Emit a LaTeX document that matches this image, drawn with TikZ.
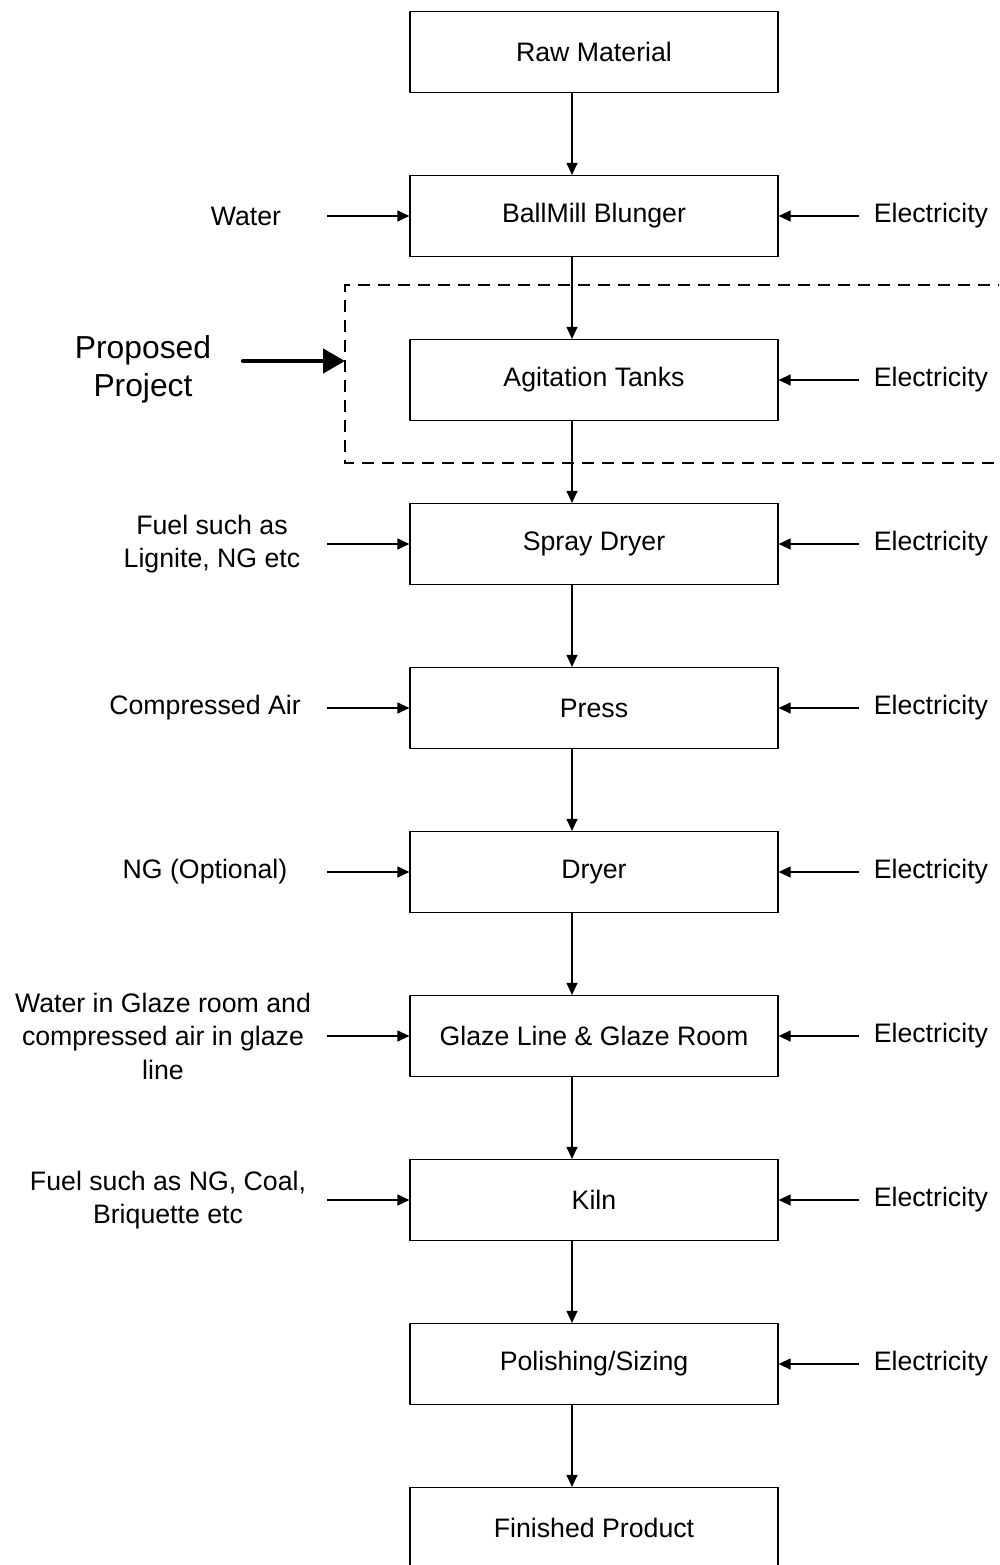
\documentclass[tikz,border=0pt]{standalone}
\usepackage{fontspec}
\setmainfont{Liberation Sans}
\usetikzlibrary{arrows.meta}
\begin{document}
\begin{tikzpicture}[x=1pt,y=-1pt,
  proc/.style={draw,line width=1.2pt,minimum width=368pt,minimum height=81pt,inner sep=0pt,
    font=\fontsize{26.7}{30.7}\selectfont},
  lbl/.style={align=center,inner sep=0pt,font=\fontsize{26.7}{33.5}\selectfont},
  flow/.style={line width=1.2pt,-{Triangle[length=12pt,width=11pt]}},
  big/.style={line width=4.5pt,line cap=round,-{Triangle[length=22pt,width=24pt]}}
]
\useasboundingbox (0,0) rectangle (999,1565);
\begin{scope}
\clip (0,0) rectangle (999,1565);
% process boxes
\node[proc] (raw) at (594,52) {Raw Material};
\node[proc] (ball) at (594,216) {BallMill Blunger};
\node[proc] (agit) at (594,380) {Agitation Tanks};
\node[proc] (spray) at (594,544) {Spray Dryer};
\node[proc] (press) at (594,708) {Press};
\node[proc] (dryer) at (594,872) {Dryer};
\node[proc] (glaze) at (594,1036) {Glaze Line \& Glaze Room};
\node[proc] (kiln) at (594,1200) {Kiln};
\node[proc] (pol) at (594,1364) {Polishing/Sizing};
\node[proc] (fin) at (594,1528) {Finished Product};
% dashed project boundary
\draw[line width=1.2pt,dash pattern=on 12pt off 8pt] (1010,285) -- (345,285) -- (345,463) -- (1010,463);
\coordinate (pb) at (345,361);
% vertical flow
\foreach \a/\b in {raw/ball,ball/agit,agit/spray,spray/press,press/dryer,dryer/glaze,glaze/kiln,kiln/pol,pol/fin}{
  \draw[flow] ([xshift=-22pt]\a.south) -- ([xshift=-22pt]\b.north);
}
% left inputs
\node[lbl] (w1) at (246,216) {Water};
\node[lbl] (f1) at (212,544) {Fuel such as\\Lignite, NG etc};
\node[lbl] (ca) at (205,708) {Compressed Air};
\node[lbl] (ng) at (205,872) {NG (Optional)};
\node[lbl] (wg) at (163,1036) {Water in Glaze room and\\compressed air in glaze\\line};
\node[lbl] (fk) at (168,1200) {Fuel such as NG, Coal,\\Briquette etc};
\foreach \n in {ball,spray,press,dryer,glaze,kiln}{
  \coordinate (L\n) at ([xshift=-82pt]\n.west);
  \draw[flow] (L\n) -- (\n.west);
}
% right inputs
\foreach \n in {ball,agit,spray,press,dryer,glaze,kiln,pol}{
  \node[lbl,anchor=west] (E\n) at ([xshift=95pt]\n.east) {Electricity};
  \coordinate (R\n) at ([xshift=80pt]\n.east);
  \draw[flow] (R\n) -- (\n.east);
}
% proposed project
\node[align=center,inner sep=0pt,font=\fontsize{31.8}{38}\selectfont] (pp) at (143,369) {Proposed\\Project};
\coordinate (ps) at (243,361);
\draw[big] (ps) -- (pb);
\end{scope}
\end{tikzpicture}
\end{document}
